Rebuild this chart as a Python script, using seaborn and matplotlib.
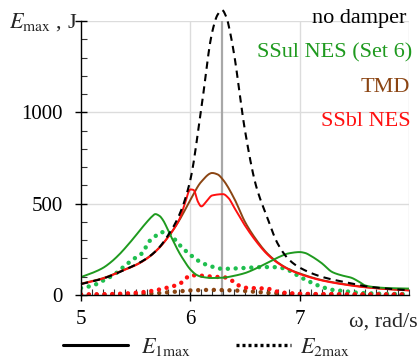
import numpy as np
import pandas as pd
import matplotlib
matplotlib.use("Agg")
import matplotlib.pyplot as plt
import seaborn as sns
from matplotlib.lines import Line2D

# ---- data ----
w_nodamp = [5.0, 5.2, 5.4, 5.6, 5.7, 5.8, 5.9, 6.0, 6.1, 6.2, 6.25, 6.29, 6.33, 6.37, 6.4, 6.5, 6.6, 6.7, 6.8, 6.9, 7.0, 7.2, 7.4, 7.5, 7.6, 7.8, 8.0]
e_nodamp = [60, 90, 138, 200, 250, 330, 440, 630, 1020, 1440, 1535, 1560, 1520, 1420, 1320, 900, 600, 430, 280, 195, 150, 100, 72, 60, 48, 35, 26]

w_tmd = [5.0, 5.2, 5.4, 5.5, 5.6, 5.7, 5.8, 5.9, 6.0, 6.1, 6.2, 6.25, 6.3, 6.4, 6.5, 6.6, 6.7, 6.8, 6.9, 7.0, 7.2, 7.4, 7.6, 7.8, 8.0]
e1_tmd = [62, 92, 140, 165, 200, 250, 320, 410, 520, 620, 668, 660, 630, 530, 400, 305, 230, 178, 142, 118, 82, 60, 44, 33, 26]

w_tmd2 = [5.0, 5.4, 5.6, 5.7, 5.8, 5.9, 6.0, 6.2, 6.4, 6.5, 6.6, 6.7, 6.8, 7.0, 7.5, 8.0]
e2_tmd = [1, 3, 7, 10, 15, 20, 25, 28, 25, 22, 17, 12, 9, 5, 2, 1]

w_ssbl = [5.0, 5.2, 5.4, 5.5, 5.6, 5.7, 5.8, 5.9, 5.95, 6.0, 6.03, 6.07, 6.1, 6.15, 6.2, 6.3, 6.35, 6.4, 6.5, 6.6, 6.7, 6.8, 6.9, 7.0, 7.2, 7.4, 7.6, 7.8, 8.0]
e1_ssbl = [60, 90, 138, 163, 198, 248, 320, 415, 500, 578, 575, 510, 485, 515, 545, 552, 530, 480, 380, 295, 225, 175, 140, 115, 80, 58, 42, 32, 25]

w_ssbl2 = [5.0, 5.2, 5.4, 5.5, 5.6, 5.7, 5.8, 5.9, 5.95, 6.0, 6.1, 6.2, 6.3, 6.35, 6.4, 6.45, 6.5, 6.6, 6.7, 6.8, 6.9, 7.0, 7.2, 7.5, 8.0]
e2_ssbl = [3, 4, 8, 12, 18, 28, 42, 60, 85, 108, 106, 100, 98, 90, 70, 50, 40, 37, 35, 18, 10, 7, 5, 4, 3]

w_ssul = [5.0, 5.1, 5.2, 5.27, 5.35, 5.42, 5.5, 5.54, 5.6, 5.65, 5.68, 5.72, 5.75, 5.8, 5.84, 5.9, 5.94, 6.0, 6.06, 6.1, 6.2, 6.3, 6.4, 6.5, 6.6, 6.7, 6.8, 6.9, 7.0, 7.05, 7.1, 7.2, 7.3, 7.4, 7.47, 7.55, 7.6, 7.7, 7.8, 8.0]
e1_ssul = [98, 120, 148, 178, 222, 268, 325, 355, 398, 430, 443, 432, 410, 350, 300, 230, 191, 140, 109, 100, 93, 95, 105, 120, 145, 175, 205, 228, 235, 230, 215, 175, 125, 105, 95, 70, 52, 42, 38, 35]

w_ssul2 = [5.0, 5.1, 5.2, 5.3, 5.4, 5.5, 5.57, 5.61, 5.67, 5.74, 5.8, 5.85, 5.9, 6.0, 6.1, 6.2, 6.3, 6.4, 6.5, 6.6, 6.7, 6.8, 6.9, 7.0, 7.1, 7.2, 7.3, 7.4, 7.5, 7.6, 7.8, 8.0]
e2_ssul = [38, 50, 78, 110, 160, 205, 235, 284, 317, 344, 340, 310, 275, 220, 178, 155, 143, 145, 148, 152, 153, 152, 135, 100, 70, 45, 28, 22, 14, 10, 6, 5]

omega_res = 6.29
x_ticks = [5, 6, 7]
y_ticks = [0, 500, 1000]

# ---- styling ----
sns.set_theme(style="white")
plt.rcParams["font.family"] = ["Liberation Serif", "DejaVu Serif"]
plt.rcParams["mathtext.fontset"] = "stix"

GREEN = "#1f9a1f"
GREEN_DOT = "#1fbf4f"
BROWN = "#8b4513"
RED = "#ff1010"

fig = plt.figure(figsize=(4.2, 3.62), dpi=100)
ax = fig.add_axes([81/420, 1 - 295/362, (409-81)/420, (295-21)/362])

def smooth(w, e, n=400):
    w = np.asarray(w, float); e = np.asarray(e, float)
    xs = np.linspace(w[0], w[-1], n)
    h = np.diff(w); d = np.diff(e) / h
    m = np.zeros_like(e)
    m[0] = d[0]; m[-1] = d[-1]
    for i in range(1, len(e) - 1):
        if d[i-1] * d[i] <= 0:
            m[i] = 0
        else:
            w1 = 2*h[i] + h[i-1]; w2 = h[i] + 2*h[i-1]
            m[i] = (w1 + w2) / (w1/d[i-1] + w2/d[i])
    idx = np.clip(np.searchsorted(w, xs) - 1, 0, len(w) - 2)
    t = (xs - w[idx]) / h[idx]
    h00 = 2*t**3 - 3*t**2 + 1; h10 = t**3 - 2*t**2 + t
    h01 = -2*t**3 + 3*t**2; h11 = t**3 - t**2
    ys = h00*e[idx] + h10*h[idx]*m[idx] + h01*e[idx+1] + h11*h[idx]*m[idx+1]
    return pd.DataFrame({"w": xs, "E": ys})

DOT = (0, (0.01, 1.75))
dot_kw = dict(linewidth=3.2, dash_capstyle="round")

# grid
for gx in [6, 7, 8]:
    ax.axvline(gx, color="#dcdcdc", lw=1.0, zorder=0)
for gy in [500, 1000, 1500]:
    ax.axhline(gy, color="#dcdcdc", lw=1.0, zorder=0)
ax.axvline(omega_res, color="#a8a8a8", lw=1.6, zorder=1)

# dotted (E2max)
sns.lineplot(data=smooth(w_ssul2, e2_ssul), x="w", y="E", ax=ax, color=GREEN_DOT, linestyle=DOT, **dot_kw)
sns.lineplot(data=smooth(w_tmd2, e2_tmd), x="w", y="E", ax=ax, color=BROWN, linestyle=DOT, **dot_kw)
sns.lineplot(data=smooth(w_ssbl2, e2_ssbl), x="w", y="E", ax=ax, color=RED, linestyle=DOT, **dot_kw)

# solid (E1max)
sns.lineplot(data=smooth(w_tmd, e1_tmd), x="w", y="E", ax=ax, color=BROWN, lw=1.4)
sns.lineplot(data=smooth(w_ssbl, e1_ssbl), x="w", y="E", ax=ax, color=RED, lw=1.4)
sns.lineplot(data=smooth(w_ssul, e1_ssul), x="w", y="E", ax=ax, color=GREEN, lw=1.4)
sns.lineplot(data=smooth(w_nodamp, e_nodamp), x="w", y="E", ax=ax, color="black", lw=1.5,
             linestyle=(0, (3.5, 2.5)))
ax.lines[-1].set_clip_on(False)

ax.set_xlim(5, 8)
ax.set_ylim(0, 1500)
ax.set_xlabel(""); ax.set_ylabel("")
ax.set_xticks(x_ticks)
ax.set_xticklabels([str(t) for t in x_ticks])
ax.set_yticks(y_ticks + [1500])
ax.set_yticklabels([str(t) for t in y_ticks] + [""])
ax.set_xticks(np.arange(5, 8.01, 0.1), minor=True)
ax.set_yticks(np.arange(0, 1501, 100), minor=True)
ax.tick_params(axis="both", which="major", direction="inout", length=8, width=1.0,
               labelsize=15, colors="black", bottom=True, left=True)
ax.tick_params(axis="y", which="major", pad=9)
ax.tick_params(axis="x", which="major", pad=7)
ax.tick_params(axis="both", which="minor", direction="in", length=4, width=0.8,
               colors="#333333", bottom=True, left=True)
for s in ["top", "right"]:
    ax.spines[s].set_visible(False)
for s in ["left", "bottom"]:
    ax.spines[s].set_color("black")
    ax.spines[s].set_linewidth(1.0)
ax.set_facecolor("white")

# axis labels
fig.text(9/420, 1 - 22/362, r"$E_{\rm max}$ , J", fontsize=16, ha="left", va="center")
fig.text(418/420, 1 - 322/362, "ω, rad/s", fontsize=16, ha="right", va="center")

# series labels
lab_kw = dict(fontsize=16, ha="right", va="center")
fig.text(406/420, 1 - 19/362, "no damper", color="black", **lab_kw)
fig.text(412/420, 1 - 53/362, "SSul NES (Set 6)", color=GREEN, **lab_kw)
fig.text(410/420, 1 - 87/362, "TMD", color=BROWN, **lab_kw)
fig.text(411/420, 1 - 121/362, "SSbl NES", color=RED, **lab_kw)

# bottom legend
fig.add_artist(Line2D([63/420, 128/420], [1 - 345/362]*2, color="black", lw=2.2))
fig.text(141/420, 1 - 347/362, r"$E_{1\rm max}$", fontsize=16, ha="left", va="center")
fig.add_artist(Line2D([236/420, 291/420], [1 - 345/362]*2, color="black", lw=2.4,
                      linestyle=(0, (0.9, 0.9))))
fig.text(300/420, 1 - 347/362, r"$E_{2\rm max}$", fontsize=16, ha="left", va="center")

fig.savefig("out.png", dpi=100, facecolor="white")
